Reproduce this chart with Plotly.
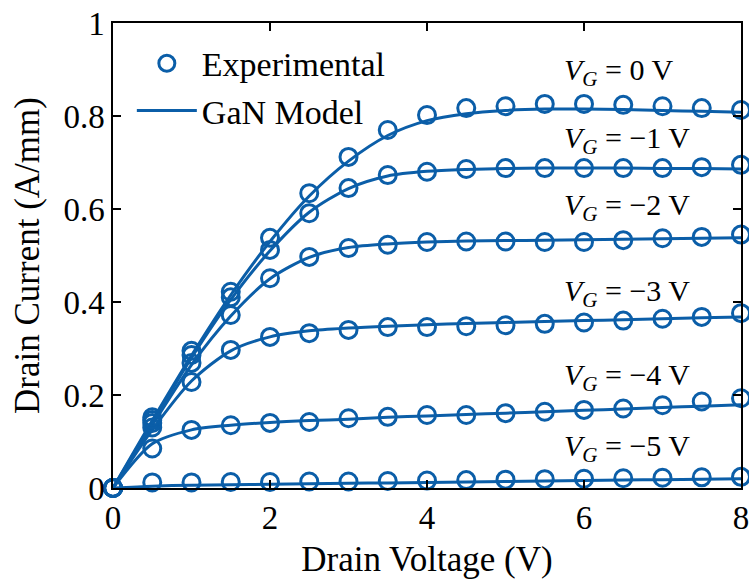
import plotly.graph_objects as go

vd = [0, 0.5, 1, 1.5, 2, 2.5, 3, 3.5, 4, 4.5, 5, 5.5, 6, 6.5, 7, 7.5, 8]
gate_labels = ["0", "−1", "−2", "−3", "−4", "−5"]

exp_vg0 = [0, 0.152, 0.295, 0.422, 0.538, 0.634, 0.712, 0.77, 0.802, 0.817, 0.821, 0.826, 0.826, 0.824, 0.821, 0.817, 0.813]
exp_vg1 = [0, 0.146, 0.286, 0.41, 0.512, 0.591, 0.645, 0.673, 0.68, 0.686, 0.688, 0.688, 0.688, 0.688, 0.688, 0.69, 0.695]
exp_vg2 = [0, 0.14, 0.269, 0.372, 0.451, 0.497, 0.516, 0.523, 0.529, 0.53, 0.53, 0.529, 0.529, 0.533, 0.537, 0.54, 0.545]
exp_vg3 = [0, 0.13, 0.228, 0.297, 0.325, 0.333, 0.34, 0.346, 0.346, 0.348, 0.35, 0.353, 0.356, 0.36, 0.364, 0.368, 0.376]
exp_vg4 = [0, 0.085, 0.125, 0.135, 0.14, 0.142, 0.15, 0.153, 0.157, 0.157, 0.161, 0.164, 0.168, 0.171, 0.178, 0.186, 0.193]
exp_vg5 = [0, 0.012, 0.012, 0.013, 0.013, 0.014, 0.014, 0.015, 0.016, 0.017, 0.018, 0.019, 0.02, 0.021, 0.022, 0.023, 0.024]

mod_vg0 = [0, 0.145, 0.285, 0.415, 0.53, 0.628, 0.703, 0.758, 0.79, 0.805, 0.812, 0.815, 0.815, 0.814, 0.812, 0.81, 0.808]
mod_vg1 = [0, 0.14, 0.28, 0.405, 0.51, 0.593, 0.644, 0.671, 0.681, 0.685, 0.687, 0.688, 0.688, 0.688, 0.687, 0.687, 0.686]
mod_vg2 = [0, 0.135, 0.265, 0.37, 0.45, 0.496, 0.517, 0.525, 0.529, 0.531, 0.532, 0.533, 0.534, 0.535, 0.536, 0.537, 0.538]
mod_vg3 = [0, 0.125, 0.23, 0.295, 0.325, 0.338, 0.344, 0.348, 0.351, 0.354, 0.356, 0.358, 0.36, 0.362, 0.364, 0.366, 0.368]
mod_vg4 = [0, 0.095, 0.125, 0.135, 0.141, 0.145, 0.148, 0.152, 0.155, 0.158, 0.161, 0.164, 0.167, 0.17, 0.173, 0.176, 0.179]
mod_vg5 = [0, 0.004, 0.006, 0.007, 0.008, 0.009, 0.010, 0.011, 0.012, 0.013, 0.014, 0.015, 0.016, 0.017, 0.018, 0.019, 0.02]

label_y = [0.895, 0.748, 0.604, 0.42, 0.239, 0.086]

exp_all = [exp_vg0, exp_vg1, exp_vg2, exp_vg3, exp_vg4, exp_vg5]
mod_all = [mod_vg0, mod_vg1, mod_vg2, mod_vg3, mod_vg4, mod_vg5]

C = "#0B5EA8"
FONT = "Liberation Serif"

fig = go.Figure()
for i, y in enumerate(mod_all):
    fig.add_trace(go.Scatter(
        x=vd, y=y, mode="lines", line=dict(color=C, width=3, shape="spline", smoothing=0.8),
        name="GaN Model", legendgroup="m", showlegend=(i == 0), legendrank=2))
for i, y in enumerate(exp_all):
    fig.add_trace(go.Scatter(
        x=vd, y=y, mode="markers", cliponaxis=False,
        marker=dict(symbol="circle-open", size=17, color=C, line=dict(width=3, color=C)),
        name="Experimental", legendgroup="e", showlegend=(i == 0), legendrank=1))

for lab, ly in zip(gate_labels, label_y):
    fig.add_annotation(x=5.72, y=ly, xanchor="left", yanchor="middle", showarrow=False,
                       text=f"<i>V</i><sub><i>G</i></sub> = {lab} V",
                       font=dict(family=FONT, size=30, color="black"))

axis_common = dict(showline=True, linecolor="black", linewidth=1.5, mirror="ticks",
                   ticks="inside", ticklen=8, tickcolor="black", tickwidth=1.5,
                   showgrid=False, zeroline=False, automargin=False,
                   ticklabeloverflow="allow",
                   tickfont=dict(family=FONT, size=33, color="black"))

fig.update_layout(
    width=749, height=582,
    margin=dict(l=113, r=8, t=23, b=94),
    plot_bgcolor="white", paper_bgcolor="white",
    font=dict(family=FONT, size=33, color="black"),
    xaxis=dict(range=[0, 8], tickvals=[0, 2, 4, 6, 8], ticktext=["0", "2", "4", "6", "8"],
               title=dict(text="Drain Voltage (V)", font=dict(family=FONT, size=35), standoff=11),
               **axis_common),
    yaxis=dict(range=[0, 1], tickvals=[0, 0.2, 0.4, 0.6, 0.8, 1],
               ticktext=["0", "0.2", "0.4", "0.6", "0.8", "1"],
               title=dict(text="Drain Current (A/mm)", font=dict(family=FONT, size=35), standoff=13),
               **axis_common),
    legend=dict(x=0.03, y=0.975, xanchor="left", yanchor="top", bgcolor="rgba(0,0,0,0)",
                font=dict(family=FONT, size=34), tracegroupgap=0, itemwidth=60),
    showlegend=True,
)

fig.write_html("out.html")
